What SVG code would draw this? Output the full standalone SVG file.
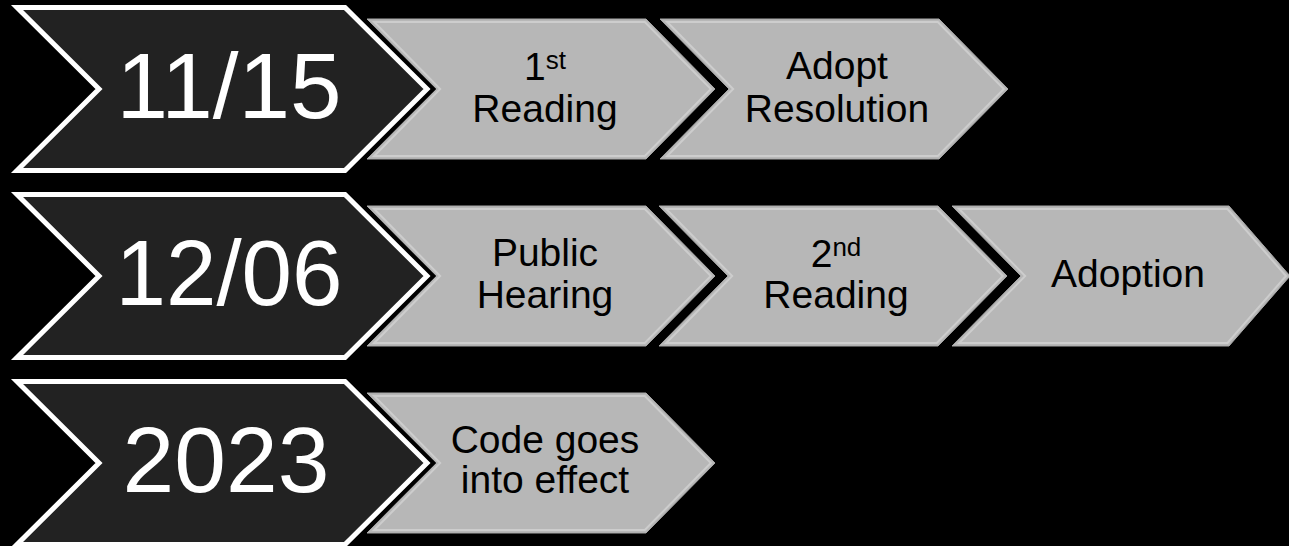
<svg xmlns="http://www.w3.org/2000/svg" xmlns:xlink="http://www.w3.org/1999/xlink" width="1289" height="546" viewBox="0 0 1289 546">
<style>
.bg{fill:#000}
.lfill{fill:#b7b7b7;stroke:#a8a8a8;stroke-width:1}
.lline{fill:none;stroke:#cdcdcd;stroke-width:2}
.dout{fill:none;stroke:#000;stroke-width:13;stroke-linejoin:miter}
.dfill{fill:#222222;stroke:#ffffff;stroke-width:5;stroke-linejoin:miter}
.big{font-family:"Liberation Sans",Arial,sans-serif;font-size:93px;fill:#ffffff;text-anchor:middle}
.lt{font-family:"Liberation Sans",Arial,sans-serif;font-size:39px;fill:#000000;text-anchor:middle}
.sup{font-size:26px}
</style>
<defs>
<g id="lc">
<polygon class="lfill" points="0,-70 279,-70 348,0 279,70 0,70 69,0"/>
<polygon class="lline" points="7.2,-67 277.8,-67 343.8,0 277.8,67 7.2,67 73.2,0"/>
</g>
<g id="lcEnd">
<polygon class="lfill" points="0,-70 277,-70 338,0 277,70 0,70 69,0"/>
<polygon class="lline" points="7.2,-67 275.5,-67 334,0 275.5,67 7.2,67 73.2,0"/>
</g>
<polygon id="dc" points="17,-81.5 345,-81.5 427,0 345,81.5 17,81.5 99,0"/>
</defs>
<rect class="bg" x="0" y="0" width="1289" height="546"/>

<g id="connectors"></g>

<!-- Row 1 -->
<g id="step-1st-reading">
<use xlink:href="#lc" href="#lc" x="367" y="89"/>
<text class="lt" x="545" y="80">1<tspan class="sup" dy="-11">st</tspan></text>
<text class="lt" x="545" y="122">Reading</text>
</g>
<g id="step-adopt-resolution">
<use xlink:href="#lc" href="#lc" x="660" y="89"/>
<text class="lt" x="837" y="79">Adopt</text>
<text class="lt" x="837" y="122">Resolution</text>
</g>
<g id="date-1115">
<use xlink:href="#dc" href="#dc" x="0" y="89" class="dout"/>
<use xlink:href="#dc" href="#dc" x="0" y="89" class="dfill"/>
<text class="big" x="229" y="118" textLength="225" lengthAdjust="spacingAndGlyphs">11/15</text>
</g>

<!-- Row 2 -->
<g id="step-public-hearing">
<use xlink:href="#lc" href="#lc" x="367" y="276"/>
<text class="lt" x="545" y="266">Public</text>
<text class="lt" x="545" y="308">Hearing</text>
</g>
<g id="step-2nd-reading">
<use xlink:href="#lc" href="#lc" x="659" y="276"/>
<text class="lt" x="836" y="267">2<tspan class="sup" dy="-11">nd</tspan></text>
<text class="lt" x="836" y="308">Reading</text>
</g>
<g id="step-adoption">
<use xlink:href="#lcEnd" href="#lcEnd" x="952" y="276"/>
<text class="lt" x="1128" y="287">Adoption</text>
</g>
<g id="date-1206">
<use xlink:href="#dc" href="#dc" x="0" y="276" class="dout"/>
<use xlink:href="#dc" href="#dc" x="0" y="276" class="dfill"/>
<text class="big" x="229" y="305" textLength="227" lengthAdjust="spacingAndGlyphs">12/06</text>
</g>

<!-- Row 3 -->
<g id="step-code-effect">
<use xlink:href="#lc" href="#lc" x="367" y="463"/>
<text class="lt" x="545" y="453">Code goes</text>
<text class="lt" x="545" y="493">into effect</text>
</g>
<g id="date-2023">
<use xlink:href="#dc" href="#dc" x="0" y="463" class="dout"/>
<use xlink:href="#dc" href="#dc" x="0" y="463" class="dfill"/>
<text class="big" x="226" y="492">2023</text>
</g>
</svg>
